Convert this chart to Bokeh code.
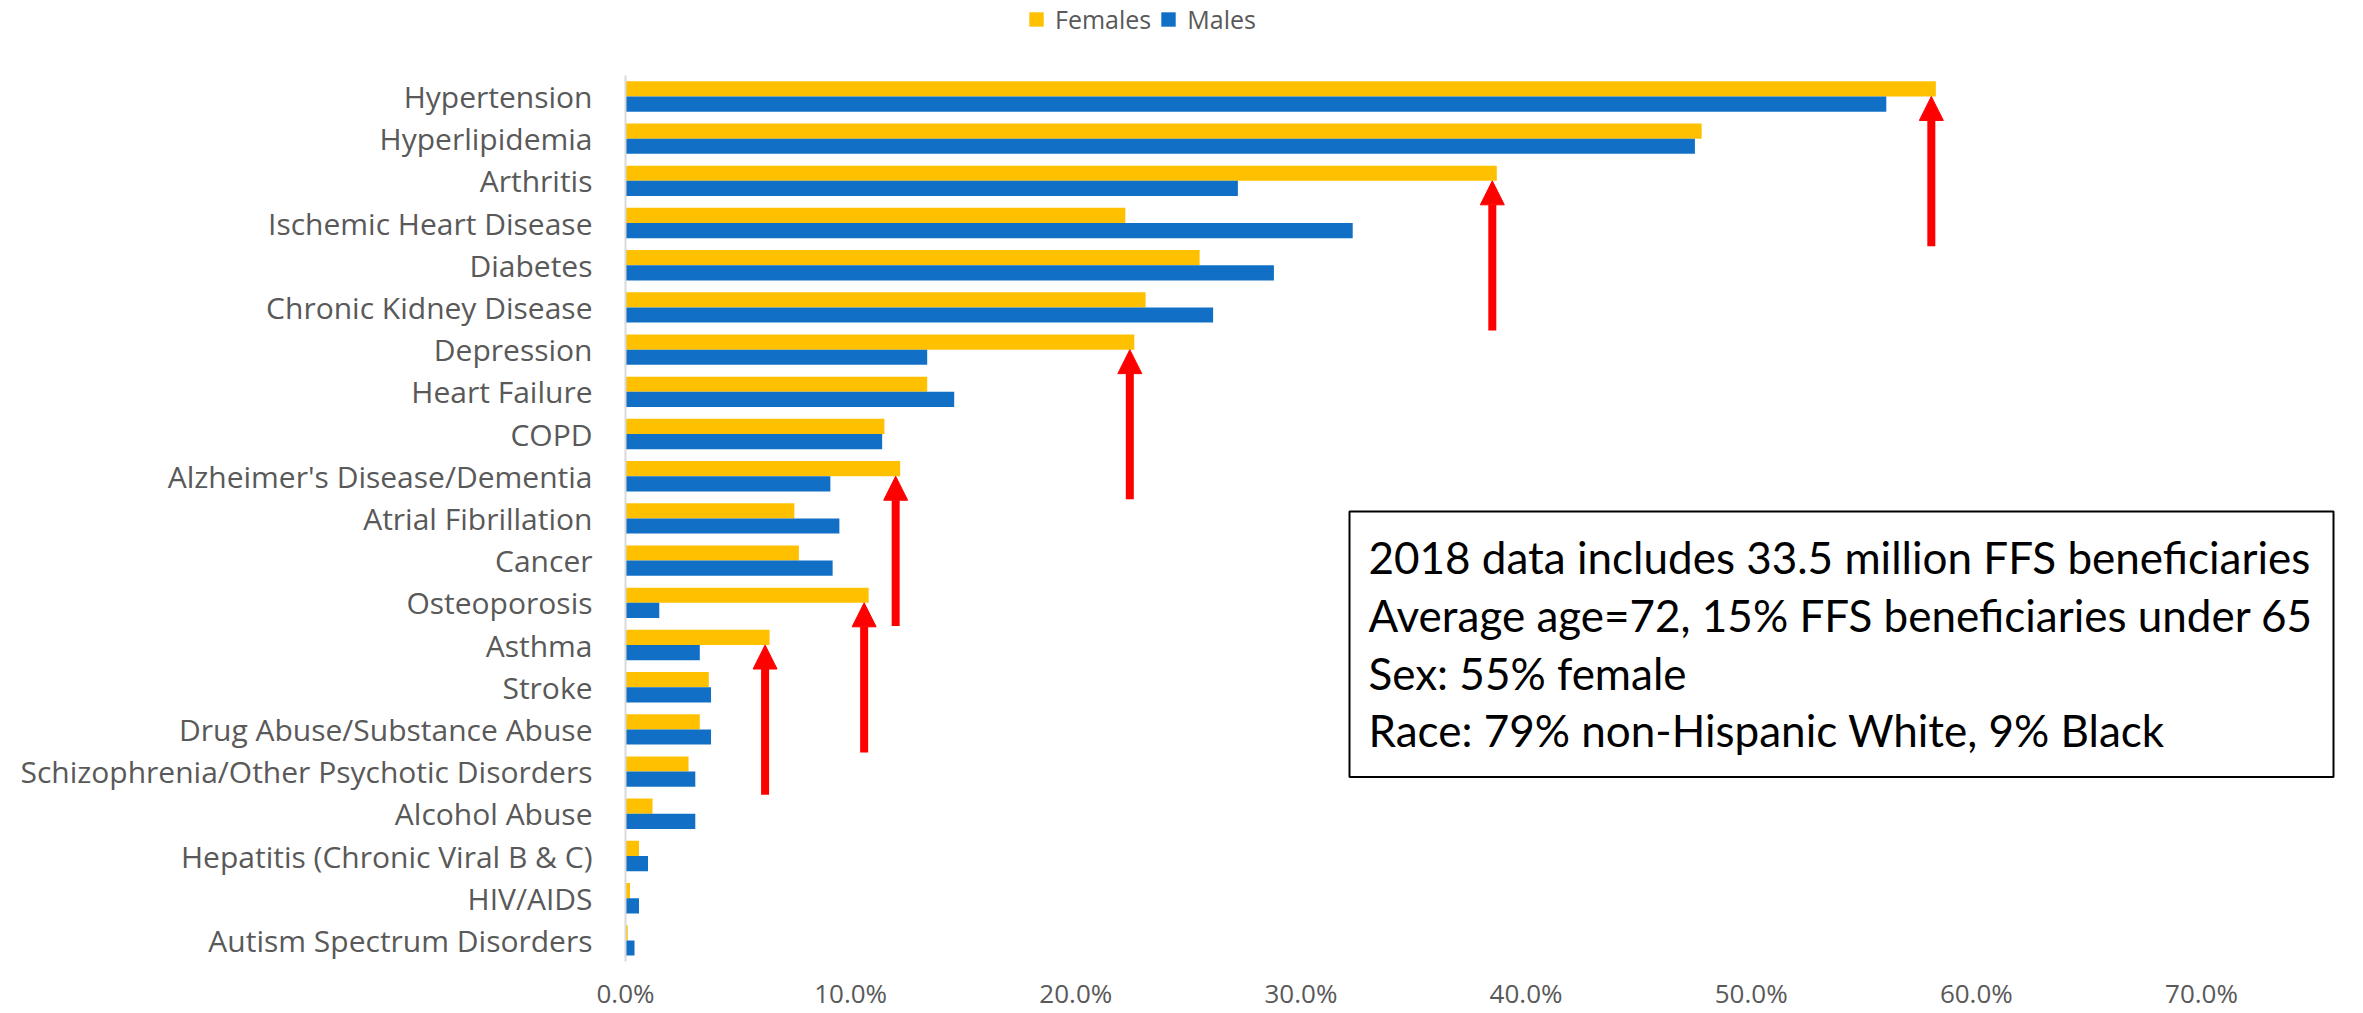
from bokeh.plotting import figure
from bokeh.models import (ColumnDataSource, FixedTicker, PrintfTickFormatter, Legend,
                          LegendItem, Arrow, NormalHead, BoxAnnotation, Label, Range1d)
from bokeh.transform import dodge
from bokeh.embed import file_html
from bokeh.resources import INLINE

# Prevalence of chronic conditions among Medicare FFS beneficiaries, 2018 (%)
conditions = [
    "Hypertension", "Hyperlipidemia", "Arthritis", "Ischemic Heart Disease",
    "Diabetes", "Chronic Kidney Disease", "Depression", "Heart Failure", "COPD",
    "Alzheimer's Disease/Dementia", "Atrial Fibrillation", "Cancer",
    "Osteoporosis", "Asthma", "Stroke", "Drug Abuse/Substance Abuse",
    "Schizophrenia/Other Psychotic Disorders", "Alcohol Abuse",
    "Hepatitis (Chronic Viral B & C)", "HIV/AIDS", "Autism Spectrum Disorders",
]
females = [58.2, 47.8, 38.7, 22.2, 25.5, 23.1, 22.6, 13.4, 11.5, 12.2, 7.5,
           7.7, 10.8, 6.4, 3.7, 3.3, 2.8, 1.2, 0.6, 0.2, 0.1]
males = [56.0, 47.5, 27.2, 32.3, 28.8, 26.1, 13.4, 14.6, 11.4, 9.1, 9.5,
         9.2, 1.5, 3.3, 3.8, 3.8, 3.1, 3.1, 1.0, 0.6, 0.4]

# Conditions where women carry the clearly larger burden
highlighted = ["Hypertension", "Arthritis", "Depression",
               "Alzheimer's Disease/Dementia", "Osteoporosis", "Asthma"]

x_ticks = [0, 10, 20, 30, 40, 50, 60, 70]

summary_lines = [
    "2018 data includes 33.5 million FFS beneficiaries",
    "Average age=72, 15% FFS beneficiaries under 65",
    "Sex: 55% female",
    "Race: 79% non-Hispanic White, 9% Black",
]

FEMALE_COLOR = "#FFC000"
MALE_COLOR = "#1170C5"
TEXT_GRAY = "#595959"

# ---- page geometry (pixels) ----
W, H = 2363, 1013
FRAME_L, BARS_T, FRAME_B = 625, 75, 963   # bars occupy rows between BARS_T and FRAME_B
X70_PX = 2201                             # where the 70% tick sits
PX_PER_PCT = (X70_PX - FRAME_L) / 70.0
n = len(conditions)
PX_PER_ROW = (FRAME_B - BARS_T) / n
X_MAX = (W - FRAME_L) / PX_PER_PCT
Y_TOP = (n - 0.5) + BARS_T / PX_PER_ROW  # headroom above the bars for the legend


def px_x(px):
    return (px - FRAME_L) / PX_PER_PCT


def px_y(py):
    return (n - 0.5) - (py - BARS_T) / PX_PER_ROW


rows = [n - 1 - i for i in range(n)]
src = ColumnDataSource(dict(row=rows, condition=conditions,
                            female=females, male=males))

p = figure(width=W, height=H, output_backend="svg", toolbar_location=None,
           x_range=Range1d(0, X_MAX), y_range=Range1d(-0.5, Y_TOP),
           min_border_left=FRAME_L, min_border_right=0,
           min_border_top=0, min_border_bottom=H - FRAME_B)
p.outline_line_color = None
p.background_fill_color = "white"
p.border_fill_color = "white"
p.xgrid.visible = False
p.ygrid.visible = False

bar_h = 0.36
rf = p.hbar(y=dodge("row", bar_h / 2), left=0, right="female", height=bar_h,
            source=src, fill_color=FEMALE_COLOR, line_color=None)
rm = p.hbar(y=dodge("row", -bar_h / 2), left=0, right="male", height=bar_h,
            source=src, fill_color=MALE_COLOR, line_color=None)

# x axis: percentage labels only
xa = p.xaxis[0]
xa.ticker = FixedTicker(ticks=x_ticks)
xa.formatter = PrintfTickFormatter(format="%.1f%%")
xa.axis_line_color = None
xa.major_tick_line_color = None
xa.major_tick_out = 0
xa.major_tick_in = 0
xa.minor_tick_line_color = None
xa.minor_tick_out = 0
xa.major_label_text_color = TEXT_GRAY
xa.major_label_text_font = "Open Sans"
xa.major_label_text_font_size = "26px"
xa.major_label_standoff = 13

# y axis: condition names, line limited to the bar rows
ya = p.yaxis[0]
ya.bounds = (-0.5, n - 0.5)
ya.ticker = FixedTicker(ticks=rows)
ya.major_label_overrides = {r: c for r, c in zip(rows, conditions)}
ya.axis_line_color = "#D9D9D9"
ya.axis_line_width = 2
ya.major_tick_line_color = None
ya.major_tick_out = 0
ya.major_tick_in = 0
ya.minor_tick_line_color = None
ya.minor_tick_out = 0
ya.major_label_text_color = TEXT_GRAY
ya.major_label_text_font = "Open Sans"
ya.major_label_text_font_size = "30px"
ya.major_label_standoff = 33

# red arrows pointing at the female bars
idx = [conditions.index(c) for c in highlighted]
arrow_src = ColumnDataSource(dict(
    x=[females[i] - 0.2 for i in idx],
    y0=[rows[i] - 150 / PX_PER_ROW for i in idx],
    y1=[rows[i] for i in idx],
))
p.add_layout(Arrow(end=NormalHead(size=24, fill_color="#FF0000", line_color="#FF0000"),
                   x_start="x", y_start="y0", x_end="x", y_end="y1",
                   source=arrow_src, line_color="#FF0000", line_width=8))

# summary box
p.add_layout(BoxAnnotation(left=px_x(1349), right=px_x(2333),
                           top=px_y(512), bottom=px_y(778),
                           fill_color="white", fill_alpha=1.0,
                           line_color="black", line_width=2, line_alpha=1.0))
for k, line in enumerate(summary_lines):
    p.add_layout(Label(x=px_x(1368), y=px_y(558 + k * 57.8), text=line,
                       text_font="Lato", text_font_size="44px",
                       text_baseline="middle", text_align="left",
                       text_color="black"))

# legend sits in the headroom above the bars, centred over the chart
legend = Legend(items=[LegendItem(label="Females", renderers=[rf]),
                       LegendItem(label="Males", renderers=[rm])],
                orientation="horizontal",
                location=(1031 - 4 - FRAME_L, FRAME_B - 38),
                label_text_font="Open Sans", label_text_font_size="25px",
                label_text_color=TEXT_GRAY, glyph_width=18, glyph_height=18,
                label_standoff=10, spacing=8, border_line_color=None,
                background_fill_alpha=0, margin=0, padding=4)
p.add_layout(legend)

open("out.html", "w").write(file_html(p, INLINE))
